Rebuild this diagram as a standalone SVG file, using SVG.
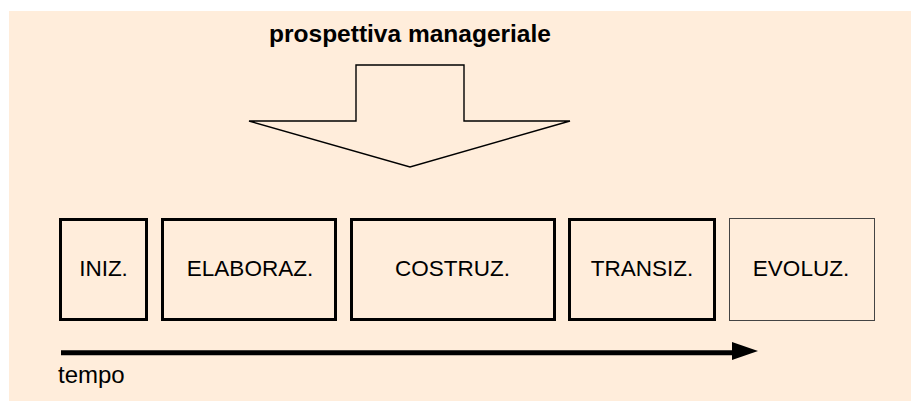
<svg xmlns="http://www.w3.org/2000/svg" width="911" height="401" viewBox="0 0 911 401">
<style>
.lbl{font-family:"Liberation Sans",Arial,sans-serif;font-size:22.5px;fill:#000;text-anchor:middle}
.box{fill:none;stroke:#000;stroke-width:3}
.thin{fill:none;stroke:#444;stroke-width:1}
</style>
<rect x="0" y="0" width="911" height="401" fill="#fff"/>
<rect x="9" y="11" width="902" height="390" fill="#FFEDDB"/>
<text x="410" y="42" font-family="Liberation Sans,Arial,sans-serif" font-size="24.5" font-weight="bold" text-anchor="middle">prospettiva manageriale</text>
<g id="big-arrow">
<polygon points="356,65 464,65 464,121 570,121 410,167 249,121 356,121" fill="none" stroke="#000" stroke-width="1.4"/>
</g>
<g id="iniz"><rect class="box" x="60.5" y="219.5" width="86" height="100"/><text class="lbl" x="103.5" y="276">INIZ.</text></g>
<g id="elaboraz"><rect class="box" x="162.5" y="219.5" width="173" height="100"/><text class="lbl" x="250" y="276">ELABORAZ.</text></g>
<g id="costruz"><rect class="box" x="351.5" y="219.5" width="203" height="100"/><text class="lbl" x="452.5" y="276">COSTRUZ.</text></g>
<g id="transiz"><rect class="box" x="569.5" y="219.5" width="145" height="100"/><text class="lbl" x="642" y="276">TRANSIZ.</text></g>
<g id="evoluz"><rect class="thin" x="729.5" y="218.5" width="145" height="102"/><text class="lbl" x="801" y="276">EVOLUZ.</text></g>
<g id="connectors">
<line x1="61" y1="352.8" x2="734" y2="352.8" stroke="#000" stroke-width="5"/>
<polygon points="732,342 758,351 732,360" fill="#000"/>
</g>
<text x="58" y="383" font-family="Liberation Sans,Arial,sans-serif" font-size="24">tempo</text>
</svg>
